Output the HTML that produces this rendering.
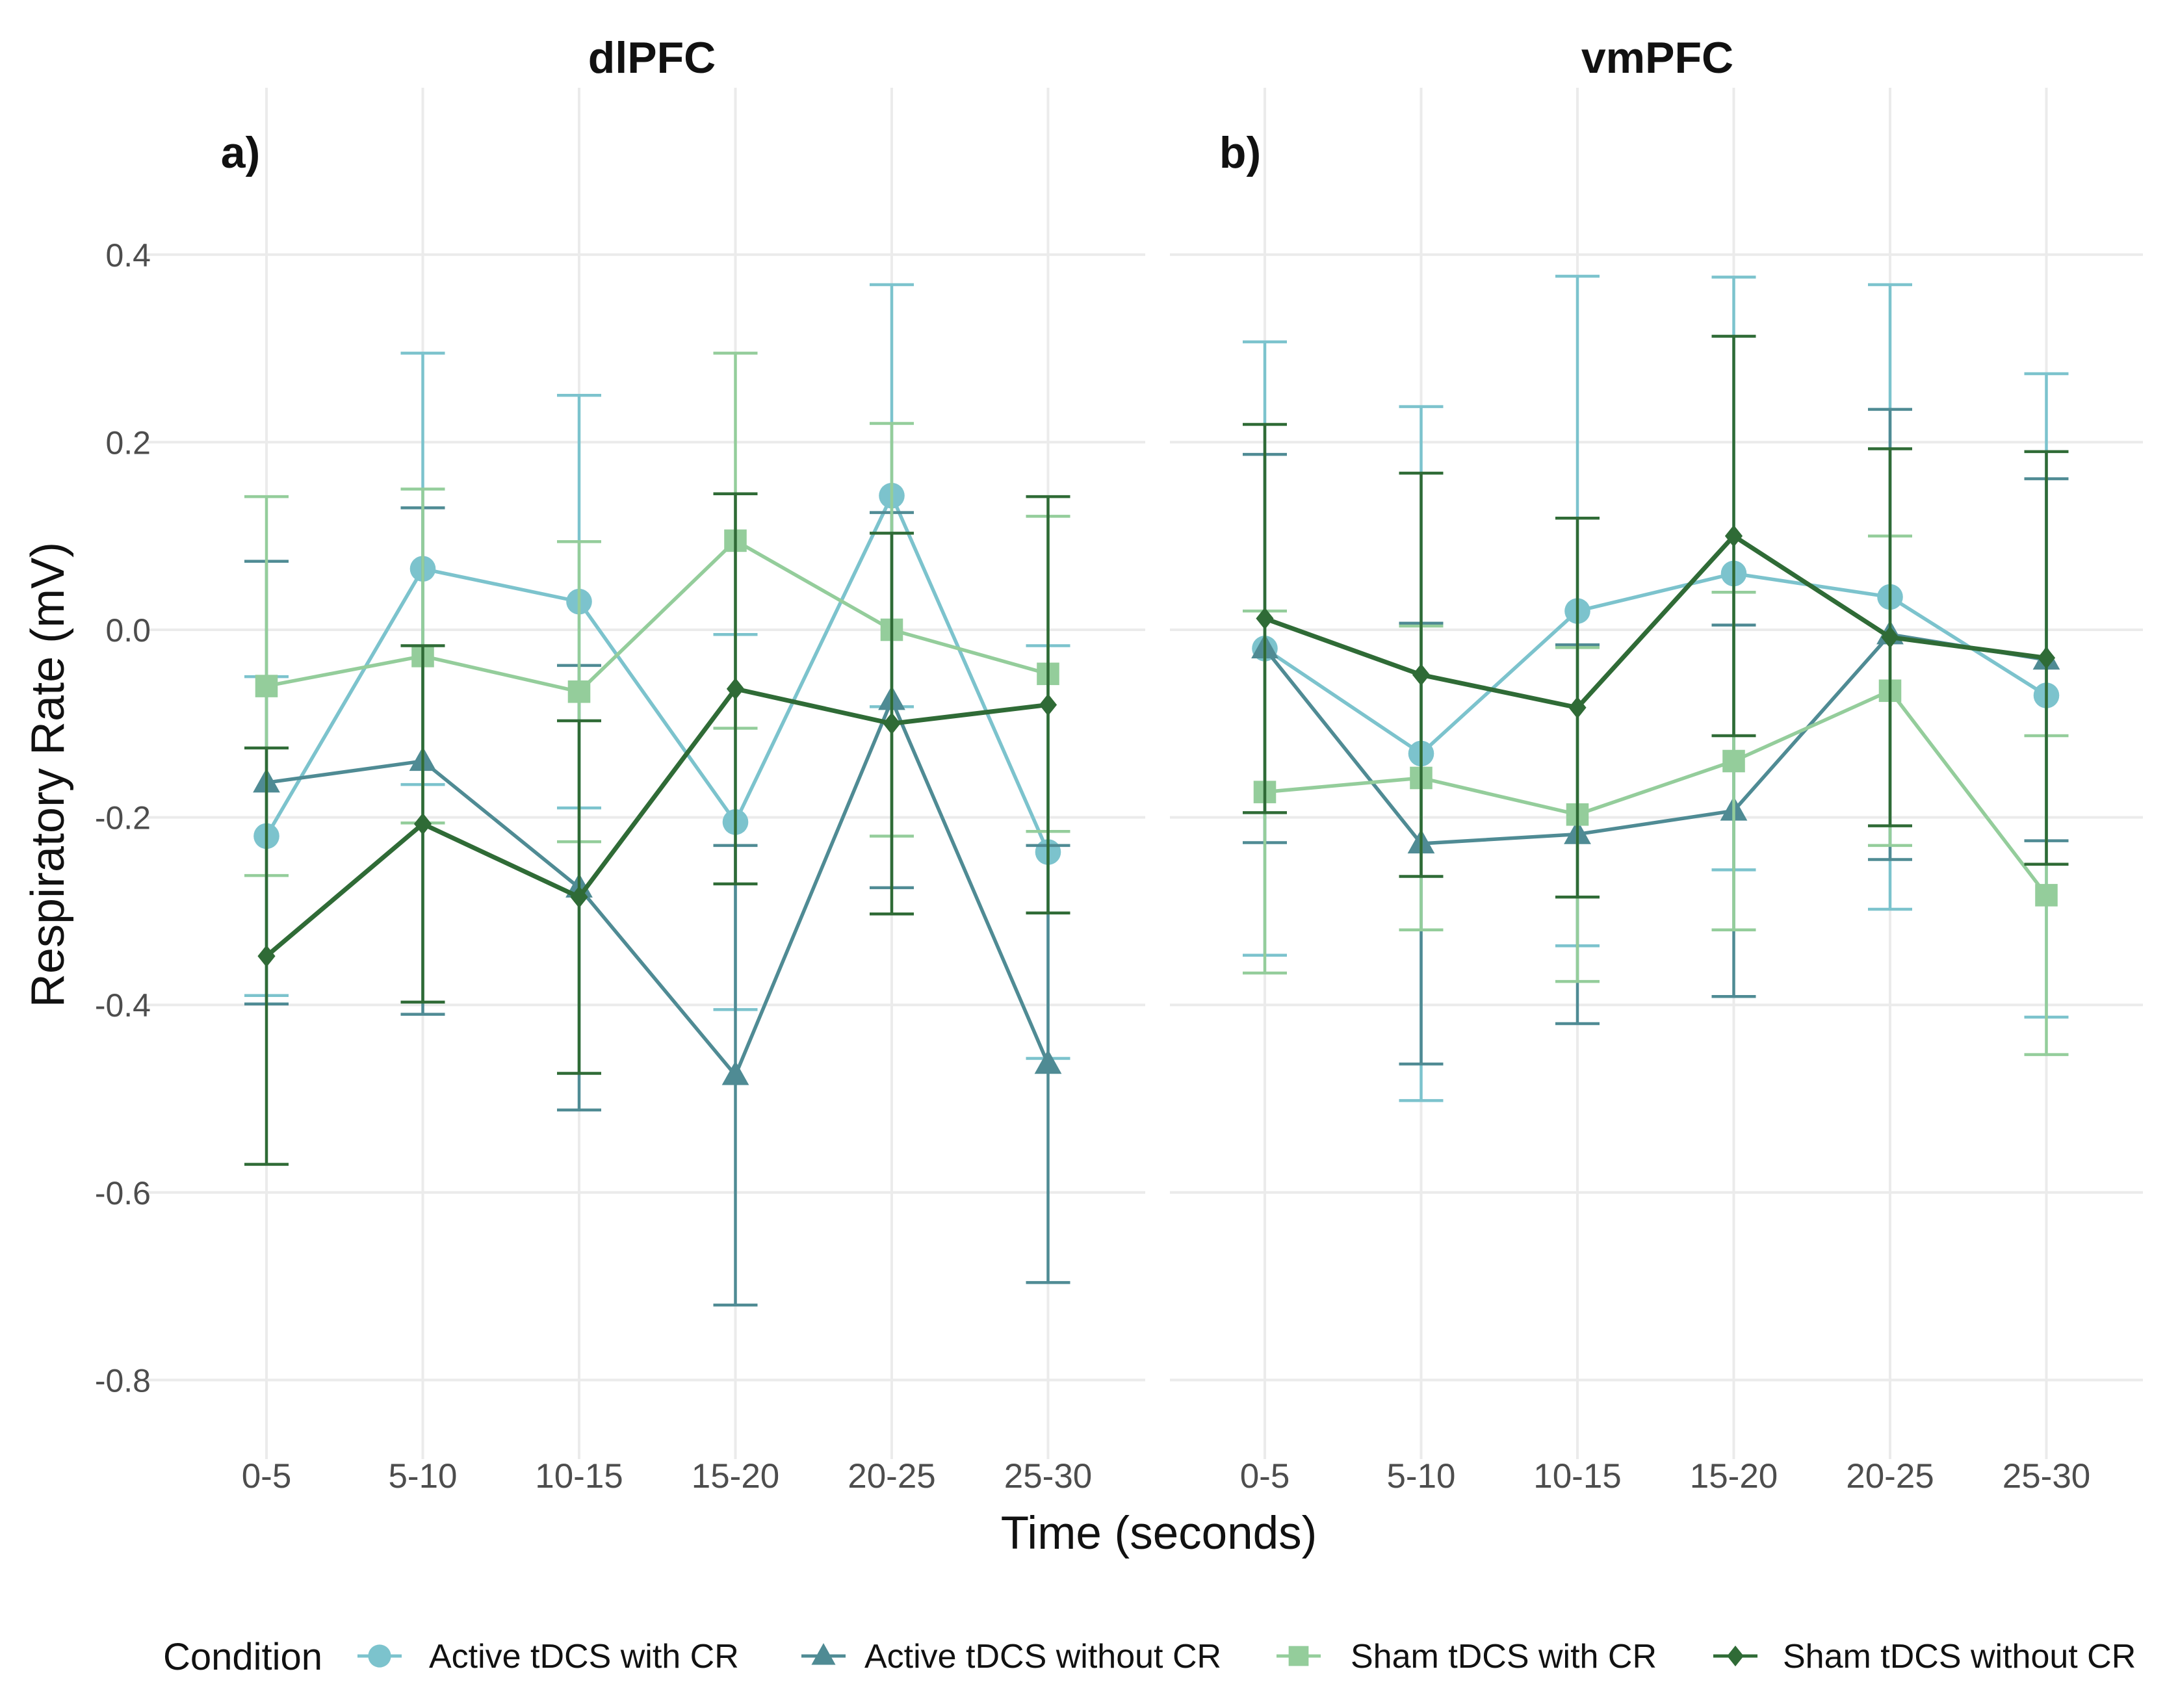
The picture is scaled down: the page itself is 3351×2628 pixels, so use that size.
<!DOCTYPE html>
<html><head><meta charset="utf-8"><style>
html,body{margin:0;padding:0;background:#fff;}
svg{display:block;font-family:"Liberation Sans",Arial,sans-serif;}
</style></head><body>
<svg id="chart" width="3351" height="2628" viewBox="0 0 3351 2628" xmlns="http://www.w3.org/2000/svg">
<rect width="3351" height="2628" fill="#fff"/>
<g id="grid"></g>
<g id="marks"></g>
<g id="labels"></g>
</svg>
<script>
const categories = ["0-5","5-10","10-15","15-20","20-25","25-30"];
const yTicks = [0.4,0.2,0.0,-0.2,-0.4,-0.6,-0.8];
const yTickLabels = ["0.4","0.2","0.0","-0.2","-0.4","-0.6","-0.8"];
const seriesNames = ["Active tDCS with CR","Active tDCS without CR","Sham tDCS with CR","Sham tDCS without CR"];
// panel a (dlPFC)
const aActiveCR = [-0.22,0.065,0.03,-0.205,0.143,-0.237];
const aActiveCRErr = [0.17,0.23,0.22,0.2,0.225,0.22];
const aActiveNoCR = [-0.163,-0.14,-0.275,-0.475,-0.075,-0.463];
const aActiveNoCRErr = [0.236,0.27,0.237,0.245,0.2,0.233];
const aShamCR = [-0.06,-0.028,-0.066,0.095,0.0,-0.047];
const aShamCRErr = [0.202,0.178,0.16,0.2,0.22,0.168];
const aShamNoCR = [-0.348,-0.207,-0.285,-0.063,-0.1,-0.08];
const aShamNoCRErr = [0.222,0.19,0.188,0.208,0.203,0.222];
// panel b (vmPFC)
const bActiveCR = [-0.02,-0.132,0.02,0.06,0.035,-0.07];
const bActiveCRErr = [0.327,0.37,0.357,0.316,0.333,0.343];
const bActiveNoCR = [-0.02,-0.228,-0.218,-0.193,-0.005,-0.032];
const bActiveNoCRErr = [0.207,0.235,0.202,0.198,0.24,0.193];
const bShamCR = [-0.173,-0.158,-0.197,-0.14,-0.065,-0.283];
const bShamCRErr = [0.193,0.162,0.178,0.18,0.165,0.17];
const bShamNoCR = [0.012,-0.048,-0.083,0.1,-0.008,-0.03];
const bShamNoCRErr = [0.207,0.215,0.202,0.213,0.201,0.22];

const NS="http://www.w3.org/2000/svg";
const colors=["#7cc3cd","#4f8b94","#94cd9b","#2f6b36"];
const shapes=["circle","triangle","square","diamond"];
const panels=[
 {name:"dlpfc",title:"dlPFC",tag:"a)",x0:410,dx:240.5,gl:226,gr:1762,titleX:1003,tagX:370,
  data:[[aActiveCR,aActiveCRErr],[aActiveNoCR,aActiveNoCRErr],[aShamCR,aShamCRErr],[aShamNoCR,aShamNoCRErr]]},
 {name:"vmpfc",title:"vmPFC",tag:"b)",x0:1946,dx:240.5,gl:1800,gr:3297,titleX:2550,tagX:1908,
  data:[[bActiveCR,bActiveCRErr],[bActiveNoCR,bActiveNoCRErr],[bShamCR,bShamCRErr],[bShamNoCR,bShamNoCRErr]]}
];
function yScale(v){return 969 - v*1443;}
function mk(tag,attrs,parent,text){const e=document.createElementNS(NS,tag);for(const k in attrs)e.setAttribute(k,attrs[k]);if(text!==undefined)e.textContent=text;parent.appendChild(e);return e;}
const grid=document.getElementById('grid'),marks=document.getElementById('marks'),labels=document.getElementById('labels');

function marker(shape,x,y,col,parent,s){
 let e;
 if(shape==="circle") e=mk('circle',{cx:x,cy:y,r:s*0.55,fill:col},parent);
 else if(shape==="triangle") e=mk('polygon',{points:`${x},${y-s*0.62} ${x-s*0.58},${y+s*0.42} ${x+s*0.58},${y+s*0.42}`,fill:col},parent);
 else if(shape==="square") e=mk('rect',{x:x-s*0.48,y:y-s*0.48,width:s*0.96,height:s*0.96,fill:col},parent);
 else e=mk('polygon',{points:`${x},${y-s*0.5} ${x+s*0.4},${y} ${x},${y+s*0.5} ${x-s*0.4},${y}`,fill:col},parent);
 return e;
}

panels.forEach(p=>{
 const xScale=i=>p.x0+i*p.dx;
 yTicks.forEach((t,i)=>{
  const l=mk('line',{x1:p.gl,x2:p.gr,y1:yScale(t),y2:yScale(t),stroke:"#ebebeb","stroke-width":4},grid);
  
  
 });
 categories.forEach((c,i)=>{
  const l=mk('line',{x1:xScale(i),x2:xScale(i),y1:135,y2:2245,stroke:"#ebebeb","stroke-width":4},grid);
  
  
  const t=mk('text',{x:xScale(i),y:2289,"text-anchor":"middle","font-size":53,fill:"#4d4d4d"},labels,c);
  
  
 });
 const tt=mk('text',{x:p.titleX,y:112,"text-anchor":"middle","font-size":68,"font-weight":"bold",fill:"#111"},labels,p.title);
 
 
 const tg=mk('text',{x:p.tagX,y:258,"text-anchor":"middle","font-size":68,"font-weight":"bold",fill:"#111"},labels,p.tag);
 
 
 p.data.forEach((sd,si)=>{
  const [vals,errs]=sd;const col=colors[si];
  const g=mk('g',{},marks);
  
  
  vals.forEach((v,i)=>{
   const x=xScale(i),yt=yScale(v+errs[i]),yb=yScale(v-errs[i]);
   const eb=mk('path',{d:`M${x-34},${yt}H${x+34}M${x},${yt}V${yb}M${x-34},${yb}H${x+34}`,stroke:col,"stroke-width":4.5,fill:"none"},g);
   
   
  });
  const pts=vals.map((v,i)=>xScale(i)+","+yScale(v)).join(" ");
  const pl=mk('polyline',{points:pts,stroke:col,"stroke-width":si===3?7:5.5,fill:"none","stroke-linejoin":"round"},g);
  
  
  vals.forEach((v,i)=>{
   const m=marker(shapes[si],xScale(i),yScale(v),col,g,si===3?34:36);
   
   
  });
 });
});
yTicks.forEach((t,i)=>{
 const e=mk('text',{x:232,y:yScale(t)+18,"text-anchor":"end","font-size":50,fill:"#4d4d4d"},labels,yTickLabels[i]);
 
 
});
const xt=mk('text',{x:1783,y:2383,"text-anchor":"middle","font-size":71,fill:"#111"},labels,"Time (seconds)");


const yt=mk('text',{x:0,y:0,"text-anchor":"middle","font-size":72,fill:"#111",transform:"translate(98,1192) rotate(-90)"},labels,"Respiratory Rate (mV)");


const lt=mk('text',{x:251,y:2569,"font-size":58,fill:"#111"},labels,"Condition");


const legMX=[584,1267,1998,2670],legTX=[660,1330,2078,2743];
seriesNames.forEach((n,i)=>{
 const g=mk('g',{},labels);
 
 
 mk('line',{x1:legMX[i]-34,x2:legMX[i]+34,y1:2548,y2:2548,stroke:colors[i],"stroke-width":5},g);
 marker(shapes[i],legMX[i],2548,colors[i],g,32);
 mk('text',{x:legTX[i],y:2566,"font-size":52,fill:"#111"},g,n);
});
</script>
</body></html>
